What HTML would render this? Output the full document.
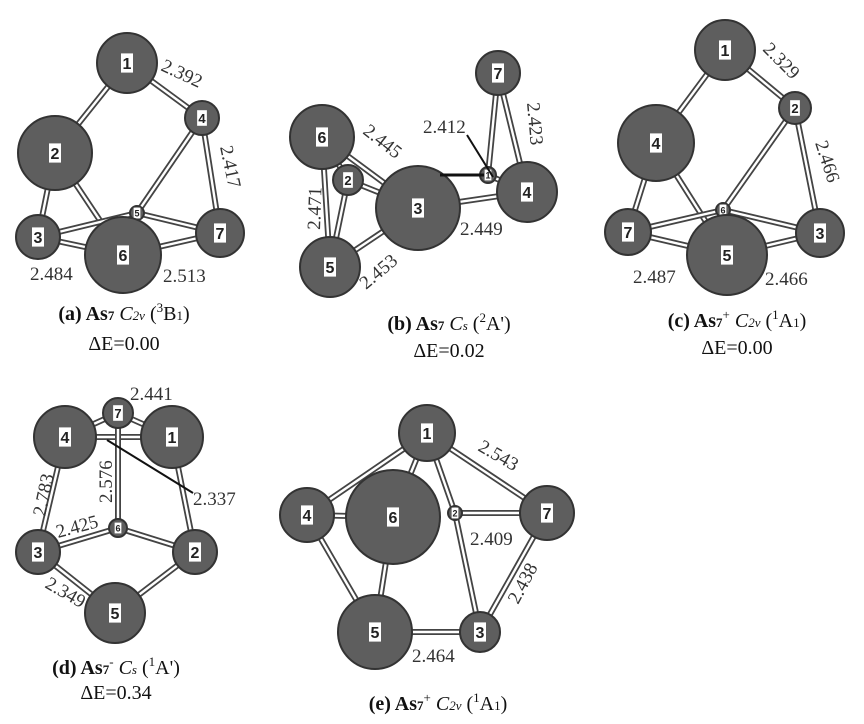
<!DOCTYPE html>
<html><head><meta charset="utf-8"><style>
body{margin:0;background:#fff}
svg{display:block}
.b{stroke:#444;stroke-width:6;fill:none}
.bi{stroke:#fff;stroke-width:2.4;fill:none}
.a{fill:#5e5e5e;stroke:#333;stroke-width:2}
.lb{fill:#fff}
.lt{font-family:"Liberation Sans",sans-serif;font-weight:bold;fill:#222;text-anchor:middle}
.d{font-family:"Liberation Serif",serif;font-size:19px;fill:#333}
.c{font-family:"Liberation Serif",serif;font-size:20px;fill:#111;text-anchor:middle}
</style></head><body>
<svg width="864" height="724" viewBox="0 0 864 724" xmlns="http://www.w3.org/2000/svg">
<g id="bonds"></g><g id="atoms"></g>
<line x1="467" y1="135" x2="493" y2="177" stroke="#111" stroke-width="2"/>
<line x1="107" y1="440" x2="193" y2="493" stroke="#111" stroke-width="2"/>
<line x1="440" y1="175" x2="484" y2="175" stroke="#111" stroke-width="3"/>
<!-- distances -->
<text class="d" transform="translate(160,70) rotate(25)">2.392</text>
<text class="d" transform="translate(220,147) rotate(78)">2.417</text>
<text class="d" x="30" y="280">2.484</text>
<text class="d" x="163" y="282">2.513</text>
<text class="d" x="423" y="133">2.412</text>
<text class="d" transform="translate(527,103) rotate(85)">2.423</text>
<text class="d" transform="translate(362,133) rotate(38)">2.445</text>
<text class="d" transform="translate(320,230) rotate(-88)">2.471</text>
<text class="d" x="460" y="235">2.449</text>
<text class="d" transform="translate(366,290) rotate(-40)">2.453</text>
<text class="d" transform="translate(762,50) rotate(45)">2.329</text>
<text class="d" transform="translate(815,143) rotate(72)">2.466</text>
<text class="d" x="633" y="283">2.487</text>
<text class="d" x="765" y="285">2.466</text>
<text class="d" x="130" y="400">2.441</text>
<text class="d" transform="translate(45,517) rotate(-78)">2.783</text>
<text class="d" transform="translate(112,503) rotate(-90)">2.576</text>
<text class="d" x="193" y="505">2.337</text>
<text class="d" transform="translate(58,538) rotate(-15)">2.425</text>
<text class="d" transform="translate(44,587) rotate(30)">2.349</text>
<text class="d" transform="translate(477,450) rotate(30)">2.543</text>
<text class="d" x="470" y="545">2.409</text>
<text class="d" transform="translate(518,605) rotate(-62)">2.438</text>
<text class="d" x="412" y="662">2.464</text>
<!-- captions -->
<text class="c" x="124" y="320"><tspan font-weight="bold">(a) As</tspan><tspan font-size="13" font-weight="bold">7</tspan> <tspan font-style="italic">C</tspan><tspan font-size="13" font-style="italic">2v</tspan> (<tspan font-size="13" dy="-8">3</tspan><tspan dy="8">B</tspan><tspan font-size="13">1</tspan>)</text>
<text class="c" x="124" y="350">ΔE=0.00</text>
<text class="c" x="449" y="330"><tspan font-weight="bold">(b) As</tspan><tspan font-size="13" font-weight="bold">7</tspan> <tspan font-style="italic">C</tspan><tspan font-size="13" font-style="italic">s</tspan> (<tspan font-size="13" dy="-8">2</tspan><tspan dy="8">A')</tspan></text>
<text class="c" x="449" y="357">ΔE=0.02</text>
<text class="c" x="737" y="327"><tspan font-weight="bold">(c) As</tspan><tspan font-size="13" font-weight="bold">7</tspan><tspan font-size="13" dy="-8">+</tspan> <tspan dy="8" font-style="italic">C</tspan><tspan font-size="13" font-style="italic">2v</tspan> (<tspan font-size="13" dy="-8">1</tspan><tspan dy="8">A</tspan><tspan font-size="13">1</tspan>)</text>
<text class="c" x="737" y="354">ΔE=0.00</text>
<text class="c" x="116" y="674"><tspan font-weight="bold">(d) As</tspan><tspan font-size="13" font-weight="bold">7</tspan><tspan font-size="13" dy="-8">-</tspan> <tspan dy="8" font-style="italic">C</tspan><tspan font-size="13" font-style="italic">s</tspan> (<tspan font-size="13" dy="-8">1</tspan><tspan dy="8">A')</tspan></text>
<text class="c" x="116" y="699">ΔE=0.34</text>
<text class="c" x="438" y="710"><tspan font-weight="bold">(e) As</tspan><tspan font-size="13" font-weight="bold">7</tspan><tspan font-size="13" dy="-8">+</tspan> <tspan dy="8" font-style="italic">C</tspan><tspan font-size="13" font-style="italic">2v</tspan> (<tspan font-size="13" dy="-8">1</tspan><tspan dy="8">A</tspan><tspan font-size="13">1</tspan>)</text>
</svg>
<script>
var P=[
{A:{1:[127,63,30],2:[55,153,37],4:[202,118,17],3:[38,237,22],6:[123,255,38],7:[220,233,24],5:[137,213,7]},
 B:[[1,2],[1,4],[4,5],[4,7],[2,3],[2,6],[3,5],[3,6],[5,7],[6,7]]},
{A:{7:[498,73,22],6:[322,137,32],2:[348,180,15],3:[418,208,42],1:[488,175,8],4:[527,192,30],5:[330,267,30]},
 B:[[7,1],[7,4],[1,4],[6,2],[6,3],[6,5],[2,5],[2,3],[5,3],[3,4]]},
{A:{1:[725,50,30],4:[656,143,38],2:[795,108,16],7:[628,232,23],5:[727,255,40],3:[820,233,24],6:[723,210,7]},
 B:[[1,4],[1,2],[2,6],[2,3],[4,7],[4,5],[7,6],[6,3],[7,5],[5,3]]},
{A:{4:[65,437,31],1:[172,437,31],7:[118,413,15],6:[118,528,9],3:[38,552,22],2:[195,552,22],5:[115,613,30]},
 B:[[4,7],[7,1],[4,1],[7,6],[4,3],[1,2],[3,6],[6,2],[3,5],[5,2]]},
{A:{1:[427,433,28],4:[307,515,27],6:[393,517,47],2:[455,513,7],7:[547,513,27],5:[375,632,37],3:[480,632,20]},
 B:[[1,4],[1,6],[1,2],[1,7],[4,5],[6,5],[2,7],[2,3],[7,3],[5,3],[4,6]]}];
var ns="http://www.w3.org/2000/svg",bg=document.getElementById("bonds"),ag=document.getElementById("atoms");
function el(t,a,p){var e=document.createElementNS(ns,t);for(var k in a)e.setAttribute(k,a[k]);p.appendChild(e);return e;}
P.forEach(function(p){
 p.B.forEach(function(b){var u=p.A[b[0]],v=p.A[b[1]];
  el("line",{x1:u[0],y1:u[1],x2:v[0],y2:v[1],"class":"b"},bg);
  el("line",{x1:u[0],y1:u[1],x2:v[0],y2:v[1],"class":"bi"},bg);});
 var ks=Object.keys(p.A).sort(function(a,b){return p.A[a][2]-p.A[b][2]});
 ks.forEach(function(k){var a=p.A[k],r=a[2];
  el("circle",{cx:a[0],cy:a[1],r:r,"class":"a"},ag);
  var s=r<10?9:(r<18?13:16),w=s*0.75,h=s*1.2;
  el("rect",{x:a[0]-w/2,y:a[1]-h/2,width:w,height:h,"class":"lb"},ag);
  var t=el("text",{x:a[0],y:a[1]+s*0.38,"class":"lt","font-size":s},ag);t.textContent=k;});
});
</script>
</body></html>
